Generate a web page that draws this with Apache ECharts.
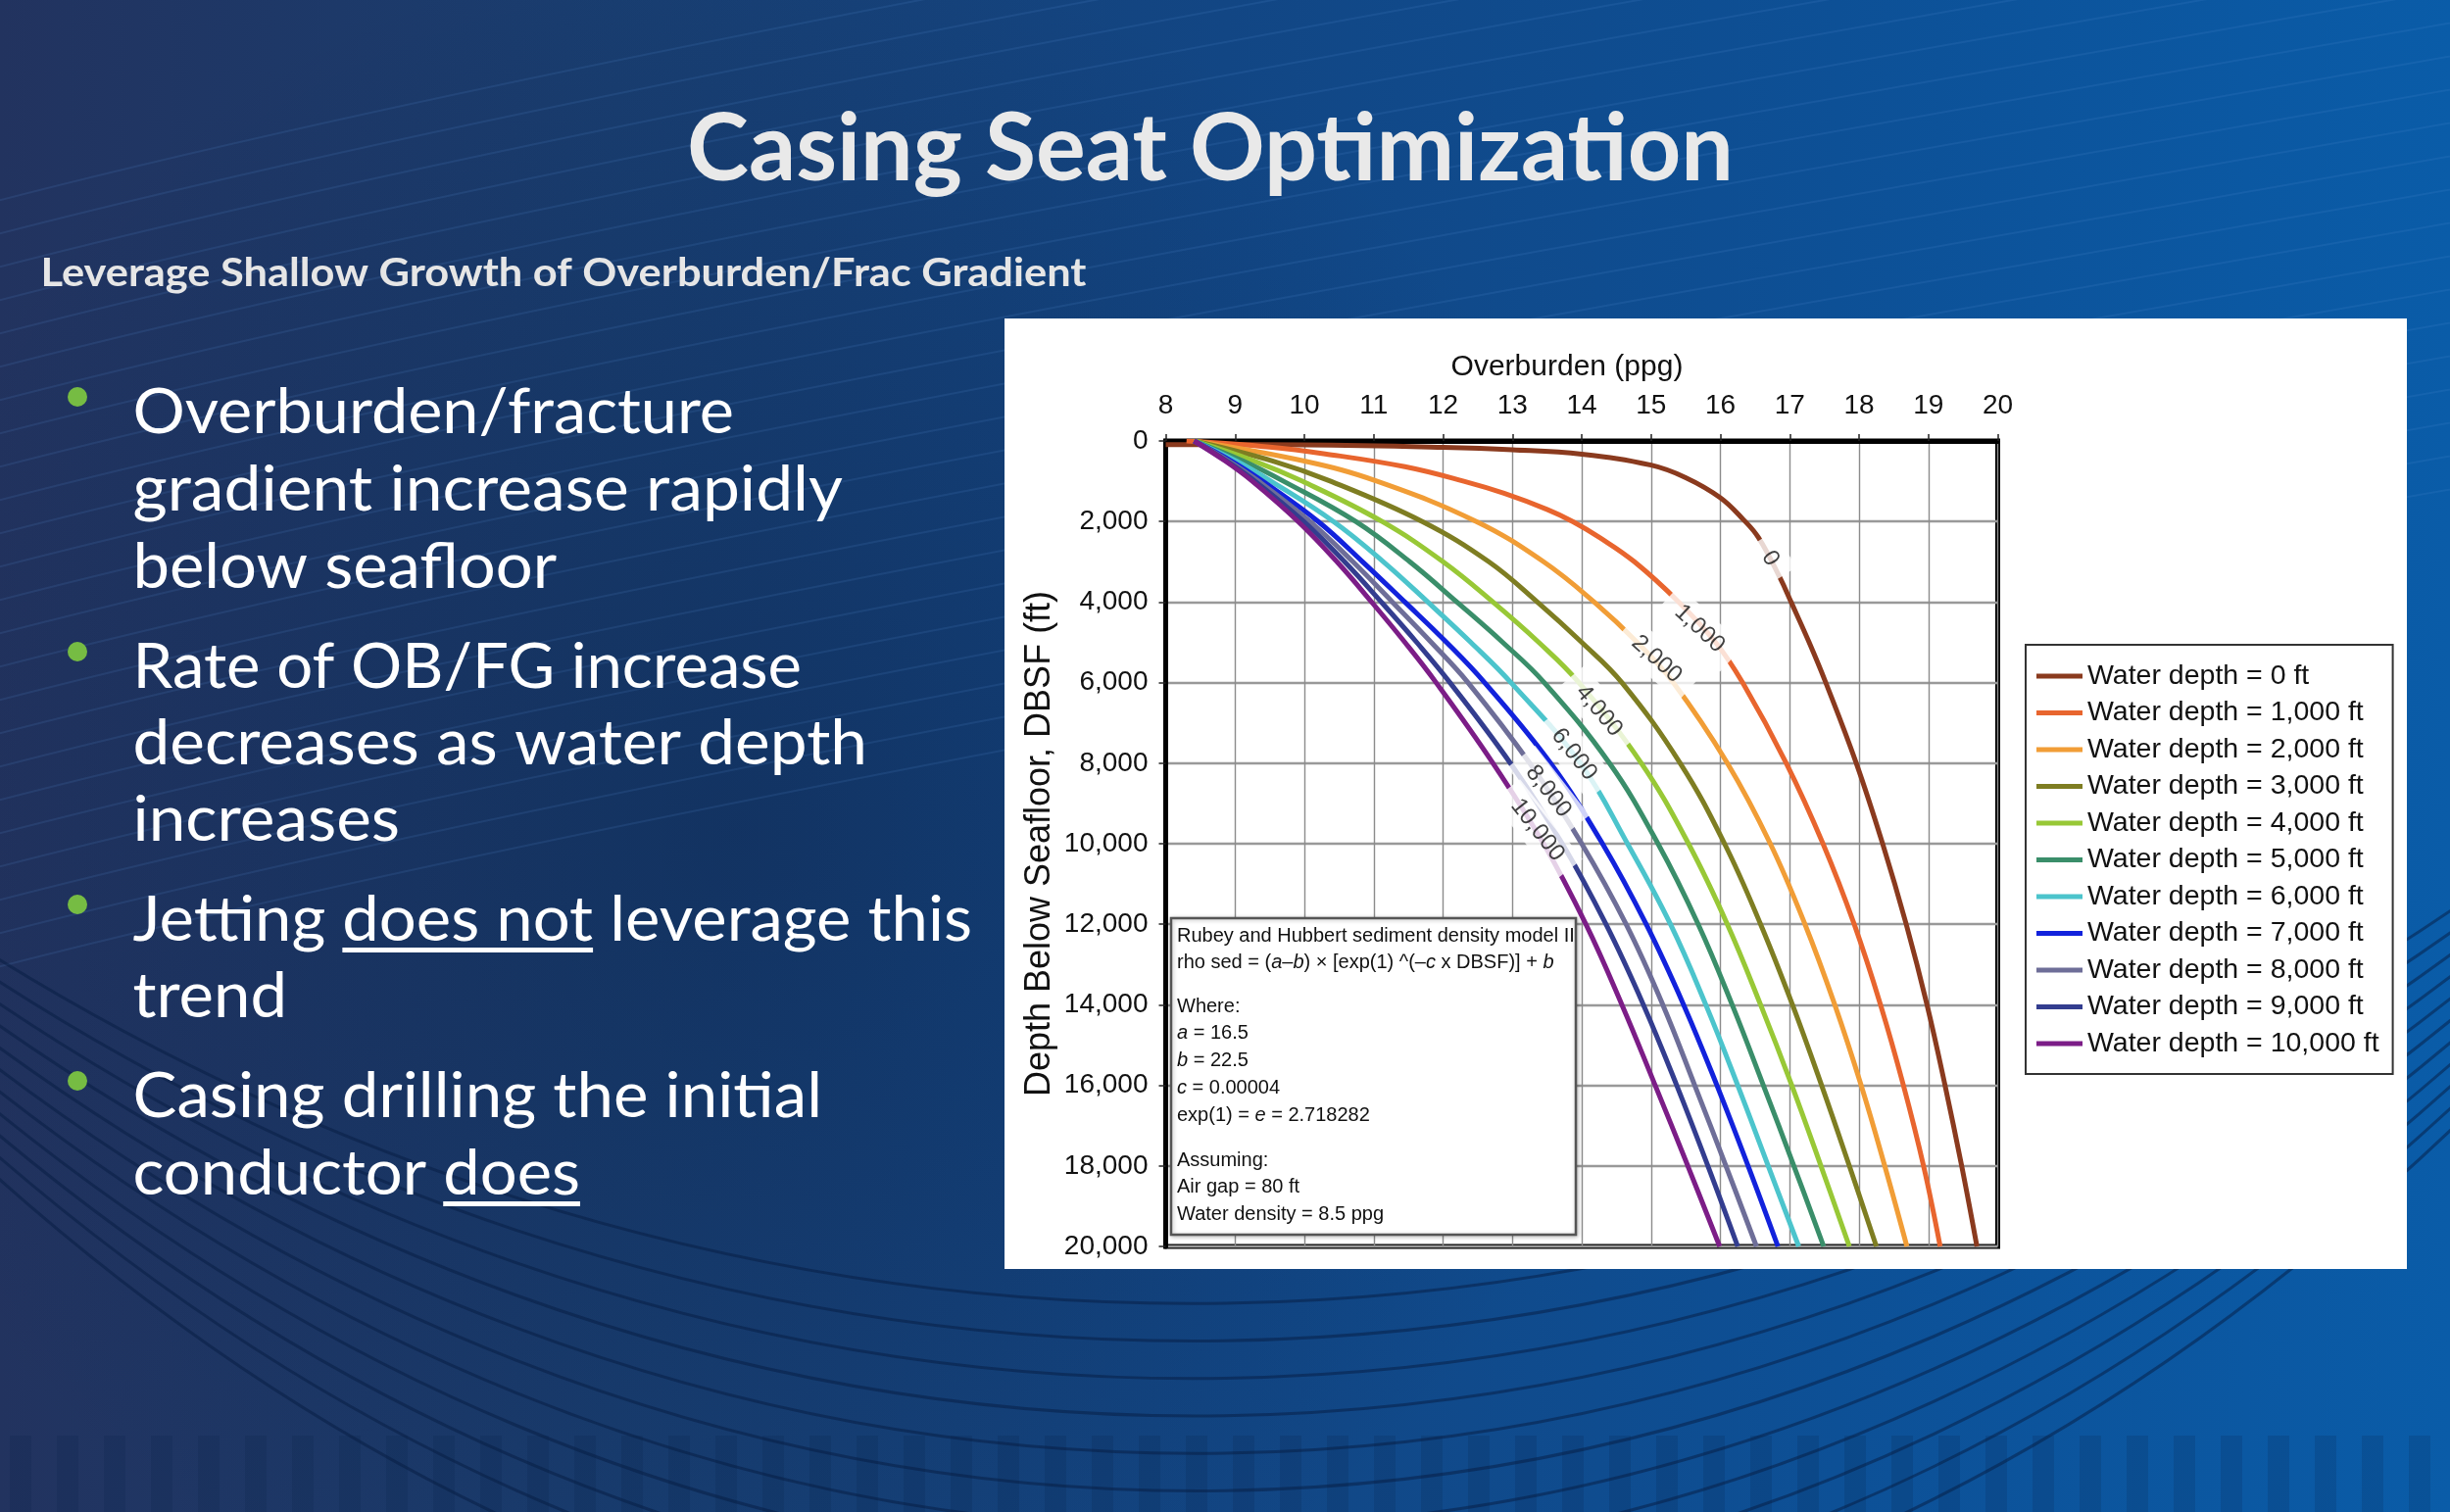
<!DOCTYPE html>
<html>
<head>
<meta charset="utf-8">
<title>Casing Seat Optimization</title>
<script src="https://cdn.jsdelivr.net/npm/echarts@6.0.0/dist/echarts.min.js"></script>
<style>
html,body{margin:0;padding:0;overflow:hidden;background:#123e76;}
#chart{width:2500px;height:1543px;}
</style>
</head>
<body>
<div id="chart"></div>
<script>
// ================= DATA =================
const xTicks = [8, 9, 10, 11, 12, 13, 14, 15, 16, 17, 18, 19, 20];            // Overburden (ppg)
const yTicks = [0, 2000, 4000, 6000, 8000, 10000, 12000, 14000, 16000, 18000, 20000]; // DBSF (ft)

const seriesNames = [
  'Water depth = 0 ft', 'Water depth = 1,000 ft', 'Water depth = 2,000 ft',
  'Water depth = 3,000 ft', 'Water depth = 4,000 ft', 'Water depth = 5,000 ft',
  'Water depth = 6,000 ft', 'Water depth = 7,000 ft', 'Water depth = 8,000 ft',
  'Water depth = 9,000 ft', 'Water depth = 10,000 ft'
];

// common depth stations (ft below seafloor)
const depthFt = [0, 500, 1000, 2000, 3000, 4000, 5000, 6000, 8000, 10000, 12000, 14000, 16000, 18000, 20000];
// overburden gradient (ppg) read at those depths
const ob2000  = [8.41, 10.00, 11.05, 12.48, 13.45, 14.18, 14.80, 15.32, 16.10, 16.72, 17.22, 17.65, 18.03, 18.37, 18.69];
const ob3000  = [8.41, 9.55, 10.38, 11.70, 12.66, 13.36, 14.00, 14.58, 15.42, 16.06, 16.58, 17.04, 17.46, 17.86, 18.25];
const ob4000  = [8.41, 9.28, 9.97, 11.12, 12.00, 12.72, 13.38, 13.96, 14.86, 15.54, 16.10, 16.58, 17.03, 17.45, 17.86];
const ob5000  = [8.41, 9.12, 9.70, 10.74, 11.52, 12.20, 12.86, 13.46, 14.40, 15.10, 15.68, 16.17, 16.62, 17.06, 17.49];
const ob6000  = [8.41, 9.02, 9.52, 10.42, 11.14, 11.78, 12.40, 12.98, 13.98, 14.66, 15.28, 15.79, 16.25, 16.69, 17.13];
const ob7000  = [8.41, 8.95, 9.40, 10.20, 10.84, 11.45, 12.05, 12.60, 13.55, 14.30, 14.93, 15.47, 15.95, 16.40, 16.83];
const ob8000  = [8.41, 8.91, 9.34, 10.08, 10.70, 11.27, 11.83, 12.36, 13.25, 14.00, 14.64, 15.17, 15.63, 16.08, 16.52];
const ob9000  = [8.41, 8.88, 9.29, 9.99, 10.58, 11.11, 11.62, 12.10, 12.97, 13.72, 14.35, 14.89, 15.37, 15.82, 16.25];
const ob10000 = [8.41, 8.86, 9.25, 9.91, 10.47, 10.97, 11.45, 11.90, 12.72, 13.45, 14.06, 14.58, 15.06, 15.53, 15.99];

// shallow-water curves bend sharply, so they carry their own depth stations
const depth1000 = [0, 150, 320, 640, 1000, 1300, 1700, 2000, 2400, 3000, 4000, 5000, 6000, 8000, 10000, 12000, 14000, 16000, 18000, 20000];
const ob1000    = [8.30, 9.50, 10.30, 11.45, 12.30, 12.88, 13.50, 13.87, 14.26, 14.76, 15.40, 15.93, 16.32, 16.95, 17.48, 17.93, 18.31, 18.64, 18.93, 19.17];
const depth0 = [90, 100, 160, 220, 330, 600, 910, 1410, 1950, 2400, 3400, 4000, 5000, 6000, 8000, 10000, 12000, 14000, 16000, 18000, 20000];
const ob0    = [8.00, 10.00, 12.00, 13.00, 14.00, 15.00, 15.50, 16.00, 16.33, 16.55, 16.86, 17.02, 17.28, 17.52, 17.96, 18.34, 18.68, 18.98, 19.24, 19.48, 19.70];

// in-line curve labels (water depth), placed on the curves
const curveLabelText  = ['0', '1,000', '2,000', '4,000', '6,000', '8,000', '10,000'];
const curveLabelPpg   = [16.72, 15.70, 15.08, 14.25, 13.89, 13.52, 13.36];
const curveLabelDepth = [2920, 4660, 5420, 6700, 7780, 8700, 9660];

// ================= STYLE =================
const curveColors = ['#8a3a1e', '#e8652e', '#f19d36', '#7e7d22', '#98c836', '#3a8e6a',
                     '#4cc4cc', '#1222dc', '#6e6e98', '#333d8f', '#7c1d87'];
const curveLabelAngle = [-58, -43, -42, -50, -52, -52, -52];
const AX_FONT = '"Liberation Sans", Arial, Helvetica, sans-serif';
const SLIDE_FONT = 'Lato';

// ================= BUILD =================
const curves = [
  depth0.map((d, i) => [ob0[i], d]),
  depth1000.map((d, i) => [ob1000[i], d]),
  depthFt.map((d, i) => [ob2000[i], d]),
  depthFt.map((d, i) => [ob3000[i], d]),
  depthFt.map((d, i) => [ob4000[i], d]),
  depthFt.map((d, i) => [ob5000[i], d]),
  depthFt.map((d, i) => [ob6000[i], d]),
  depthFt.map((d, i) => [ob7000[i], d]),
  depthFt.map((d, i) => [ob8000[i], d]),
  depthFt.map((d, i) => [ob9000[i], d]),
  depthFt.map((d, i) => [ob10000[i], d])
];

const series = curves.map((pts, k) => ({
  type: 'line', name: seriesNames[k], data: pts,
  showSymbol: false, symbol: 'none', smooth: 0.4,
  lineStyle: { width: 5, color: curveColors[k], cap: 'butt' },
  itemStyle: { color: curveColors[k] },
  z: 3, animation: false, silent: true
}));

series.push({
  type: 'scatter', name: 'curveLabels', silent: true, animation: false, z: 10,
  symbolSize: 2, itemStyle: { color: 'rgba(255,255,255,0)' },
  data: curveLabelPpg.map((x, i) => ({
    value: [x, curveLabelDepth[i]],
    label: { formatter: curveLabelText[i], rotate: curveLabelAngle[i] }
  })),
  label: {
    show: true, position: 'inside', fontSize: 24, fontFamily: AX_FONT, color: '#111',
    backgroundColor: '#fff', padding: [6, 15]
  },
  labelLayout: { hideOverlap: false }
});

// ---------- text measurement helper (for slide text fitting) ----------
const mctx = document.createElement('canvas').getContext('2d');
function measure(txt, size, weight) {
  mctx.font = (weight || 'normal') + ' ' + size + 'px ' + SLIDE_FONT;
  return mctx.measureText(txt).width;
}
const MID = 0.37; // baseline offset factor for 'middle' alignment

const graphics = [];
// ---------- background ----------
graphics.push({
  type: 'rect', silent: true, z: -30,
  shape: { x: 0, y: 0, width: 2500, height: 1543 },
  style: { fill: { type: 'linear', x: 0, y: 0, x2: 1, y2: 0, colorStops: [
    { offset: 0, color: '#22335f' }, { offset: 0.25, color: '#193e71' },
    { offset: 0.5, color: '#124684' }, { offset: 0.75, color: '#0d5096' },
    { offset: 1, color: '#0a5ca8' } ] } }
});
graphics.push({
  type: 'rect', silent: true, z: -29,
  shape: { x: 0, y: 0, width: 2500, height: 1543 },
  style: { fill: { type: 'radial', x: 0.3, y: 0.55, r: 0.6, colorStops: [
    { offset: 0, color: 'rgba(6,22,55,0.30)' }, { offset: 1, color: 'rgba(6,22,55,0)' } ] } }
});
for (let i = 0; i < 24; i++) {
  const y0 = -80 + i * 34;
  graphics.push({
    type: 'bezierCurve', silent: true, z: -28,
    shape: { x1: -60, y1: y0 + 300, cpx1: 500, cpy1: y0 + 150, cpx2: 1400, cpy2: y0 - 10, x2: 2600, y2: y0 - 220 },
    style: { stroke: 'rgba(90,150,220,0.14)', lineWidth: 2, fill: null }
  });
}
for (let i = 0; i < 11; i++) {
  graphics.push({
    type: 'bezierCurve', silent: true, z: -28,
    shape: { x1: -150, y1: 880 + i * 18, cpx1: 700, cpy1: 1490 + i * 45, cpx2: 1800, cpy2: 1490 + i * 45, x2: 2650, y2: 820 + i * 18 },
    style: { stroke: 'rgba(6,28,66,0.5)', lineWidth: 3, fill: null }
  });
}
for (let i = 0; i < 52; i++) {
  graphics.push({
    type: 'rect', silent: true, z: -27,
    shape: { x: i * 48 + 10, y: 1465, width: 22, height: 80 },
    style: { fill: 'rgba(8,30,70,0.16)' }
  });
}
// white chart panel
graphics.push({
  type: 'rect', silent: true, z: -5,
  shape: { x: 1025, y: 325, width: 1431, height: 970 },
  style: { fill: '#ffffff' }
});

// ---------- slide title / subtitle ----------
function fitText(txt, left, base, size, weight, targetW, color, z) {
  const w = measure(txt, size, weight);
  const sx = targetW / w;
  graphics.push({
    type: 'text', silent: true, z: z || 1, x: left, y: base - MID * size, scaleX: sx,
    style: { text: txt, fontFamily: SLIDE_FONT, fontSize: size, fontWeight: weight,
             fill: color, align: 'left', verticalAlign: 'middle' }
  });
  return sx;
}
fitText('Casing Seat Optimization', 701, 189, 96, 'bold', 1068, '#e9e9e9');
fitText('Leverage Shallow Growth of Overburden/Frac Gradient', 41.5, 294, 40, 'bold', 1067, '#e6e6e6');

// ---------- bullets ----------
const bulletLines = [
  { segs: ['Overburden/fracture'], right: 749, base: 445, dot: true },
  { segs: ['gradient increase rapidly'], right: 860, base: 524 },
  { segs: ['below seafloor'], right: 568, base: 603 },
  { segs: ['Rate of OB/FG increase'], right: 818, base: 705, dot: true },
  { segs: ['decreases as water depth'], right: 885, base: 783 },
  { segs: ['increases'], right: 408, base: 861 },
  { segs: ['Jetting ', 'does not', ' leverage this'], ul: 1, right: 992, base: 963, dot: true },
  { segs: ['trend'], right: 293, base: 1041 },
  { segs: ['Casing drilling the initial'], right: 839, base: 1143, dot: true },
  { segs: ['conductor ', 'does'], ul: 1, right: 592, base: 1222 }
];
const BL = 135.5, BSIZE = 64;
bulletLines.forEach(l => {
  const full = l.segs.join('');
  const sx = fitText(full, BL, l.base, BSIZE, 'normal', l.right - BL, '#ffffff', 2);
  if (l.ul !== undefined) {
    const pre = l.segs.slice(0, l.ul).join('');
    const x0 = BL + measure(pre, BSIZE, 'normal') * sx;
    const wu = measure(l.segs[l.ul], BSIZE, 'normal') * sx;
    graphics.push({ type: 'rect', silent: true, z: 2,
      shape: { x: x0, y: l.base + 4, width: wu, height: 5 }, style: { fill: '#ffffff' } });
  }
  if (l.dot) {
    graphics.push({ type: 'circle', silent: true, z: 2,
      shape: { cx: 79, cy: l.base - 40, r: 10 }, style: { fill: '#76bc43' } });
  }
});

// ---------- model text box inside the plot ----------
const boxLines = [
  'Rubey and Hubbert sediment density model II',
  'rho sed = ({i|a}\u2013{i|b}) \u00d7 [exp(1) ^(\u2013{i|c} x DBSF)] + {i|b}',
  'Where:',
  '{i|a} = 16.5',
  '{i|b} = 22.5',
  '{i|c} = 0.00004',
  'exp(1) = {i|e} = 2.718282',
  'Assuming:',
  'Air gap = 80 ft',
  'Water density = 8.5 ppg'
];
const boxLineY = [955, 982, 1027, 1054, 1082, 1110, 1138, 1184, 1211, 1239];
graphics.push({
  type: 'rect', silent: true, z: 8,
  shape: { x: 1195, y: 937, width: 413, height: 323 },
  style: { fill: '#ffffff', stroke: '#555', lineWidth: 2.5,
           shadowBlur: 4, shadowColor: 'rgba(0,0,0,0.25)', shadowOffsetX: 1, shadowOffsetY: 1 }
});
boxLines.forEach((t, i) => {
  graphics.push({
    type: 'text', silent: true, z: 9, x: 1201, y: boxLineY[i],
    style: { text: t, fontFamily: AX_FONT, fontSize: 20, fill: '#111',
             align: 'left', verticalAlign: 'middle',
             rich: { i: { fontFamily: AX_FONT, fontSize: 20, fontStyle: 'italic', fill: '#111' } } }
  });
});

// ================= OPTION =================
const option = {
  animation: false,
  backgroundColor: 'transparent',
  grid: { left: 1189.5, top: 450, width: 849, height: 822, show: true,
          borderColor: '#000', borderWidth: 5, backgroundColor: 'transparent' },
  xAxis: {
    type: 'value', position: 'top', min: xTicks[0], max: xTicks[xTicks.length - 1],
    interval: xTicks[1] - xTicks[0],
    name: 'Overburden (ppg)', nameLocation: 'middle', nameGap: 60,
    nameTextStyle: { fontFamily: AX_FONT, fontSize: 30, color: '#111', padding: [0, 30, 0, 0] },
    axisLine: { show: true, lineStyle: { color: '#000', width: 5 } },
    axisTick: { show: true, inside: false, length: 7, lineStyle: { color: '#222', width: 1.5 } },
    axisLabel: { margin: 22, fontFamily: AX_FONT, fontSize: 28, color: '#111' },
    splitLine: { show: true, lineStyle: { color: '#8c8c8c', width: 1.4 } }
  },
  yAxis: {
    type: 'value', inverse: true, min: yTicks[0], max: yTicks[yTicks.length - 1],
    interval: yTicks[1] - yTicks[0],
    name: 'Depth Below Seafloor, DBSF (ft)', nameLocation: 'middle', nameGap: 110, nameRotate: 90,
    nameTextStyle: { fontFamily: AX_FONT, fontSize: 36, color: '#111' },
    axisLine: { show: true, lineStyle: { color: '#000', width: 5 } },
    axisTick: { show: true, inside: false, length: 7, lineStyle: { color: '#222', width: 1.5 } },
    axisLabel: { margin: 18, fontFamily: AX_FONT, fontSize: 28, color: '#111',
                 formatter: v => v.toLocaleString('en-US') },
    splitLine: { show: true, lineStyle: { color: '#999999', width: 2.4 } }
  },
  legend: {
    data: seriesNames, orient: 'vertical', left: 2067, top: 658,
    padding: [17, 14, 16, 11], itemGap: 7.5, itemWidth: 47, itemHeight: 5,
    itemTextGap: 11, icon: 'rect', selectedMode: false,
    backgroundColor: '#fff', borderColor: '#333', borderWidth: 2, borderRadius: 0,
    textStyle: { fontFamily: AX_FONT, fontSize: 28.5, lineHeight: 30, color: '#111' }
  },
  graphic: { elements: graphics },
  series: series
};

const chart = echarts.init(document.getElementById('chart'), null, { renderer: 'canvas', width: 2500, height: 1543 });
chart.setOption(option);
</script>
</body>
</html>
